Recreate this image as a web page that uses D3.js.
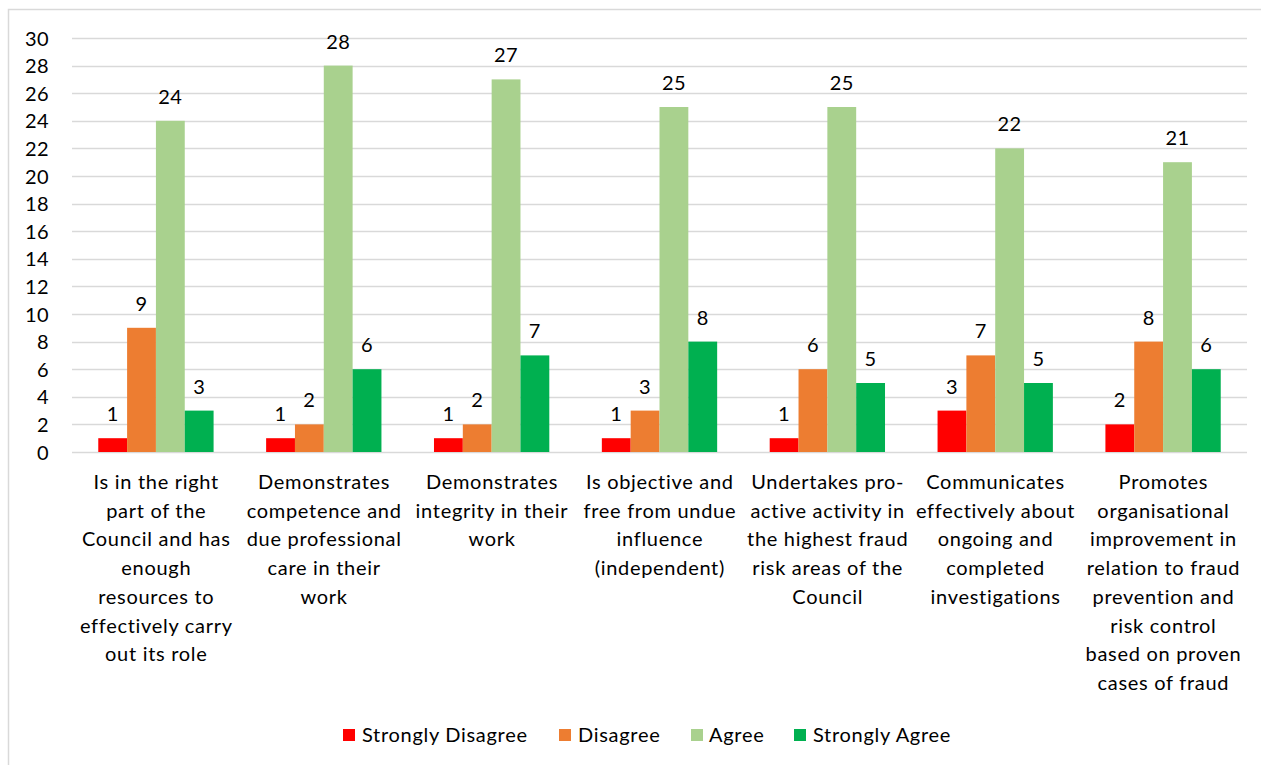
<!DOCTYPE html>
<html>
<head>
<meta charset="utf-8">
<script src="https://cdn.jsdelivr.net/npm/d3@7"></script>
<style>
  html, body { margin: 0; padding: 0; background: #fff; }
  svg { display: block; }
  text { font-family: "Lato", "Open Sans", sans-serif; fill: #000; }
</style>
</head>
<body>
<svg id="chart" width="1261" height="765"></svg>
<script>
// Survey responses per statement
const categories = [
  "Is in the right|part of the|Council and has|enough|resources to|effectively carry|out its role",
  "Demonstrates|competence and|due professional|care in their|work",
  "Demonstrates|integrity in their|work",
  "Is objective and|free from undue|influence|(independent)",
  "Undertakes pro-|active activity in|the highest fraud|risk areas of the|Council",
  "Communicates|effectively about|ongoing and|completed|investigations",
  "Promotes|organisational|improvement in|relation to fraud|prevention and|risk control|based on proven|cases of fraud"
];
const seriesNames = ["Strongly Disagree", "Disagree", "Agree", "Strongly Agree"];
const stronglyDisagree = [1, 1, 1, 1, 1, 3, 2];
const disagree = [9, 2, 2, 3, 6, 7, 8];
const agree = [24, 28, 27, 25, 25, 22, 21];
const stronglyAgree = [3, 6, 7, 8, 5, 5, 6];
const yTicks = [0, 2, 4, 6, 8, 10, 12, 14, 16, 18, 20, 22, 24, 26, 28, 30];
const colors = ["#FF0000", "#ED7D31", "#A9D18E", "#00B050"];

const seriesValues = [stronglyDisagree, disagree, agree, stronglyAgree];
const LS = 0.7; // letter spacing for wrapped / legend text

const svg = d3.select("#chart");

// chart frame (left and top edges visible)
svg.append("rect")
  .attr("x", 8.5).attr("y", 9.5)
  .attr("width", 1300).attr("height", 800)
  .attr("fill", "none").attr("stroke", "#D9D9D9").attr("stroke-width", 1.5);

const plot = { left: 72, right: 1247, top: 38, bottom: 452 };

const x0 = d3.scaleBand()
  .domain(d3.range(categories.length))
  .range([plot.left, plot.right])
  .paddingInner(0.313).paddingOuter(0.1565);

const x1 = d3.scaleBand()
  .domain(d3.range(seriesNames.length))
  .range([0, x0.bandwidth()]);

const y = d3.scaleLinear().domain([0, 30]).range([plot.bottom, plot.top]);

// gridlines
svg.append("g")
  .selectAll("line")
  .data(yTicks)
  .join("line")
  .attr("x1", plot.left).attr("x2", plot.right)
  .attr("y1", d => Math.round(y(d)) + 0.5).attr("y2", d => Math.round(y(d)) + 0.5)
  .attr("stroke", "#D9D9D9").attr("stroke-width", 1.5);

// y axis labels
const yAxis = d3.axisLeft(y).tickValues(yTicks).tickSize(0).tickPadding(0);
const yg = svg.append("g").attr("transform", `translate(${49},0)`).call(yAxis);
yg.select(".domain").remove();
yg.selectAll("text")
  .attr("font-size", 20)
  .attr("font-family", "Lato, 'Open Sans', sans-serif")
  .attr("fill", "#000")
  .attr("letter-spacing", 0.4)
  .attr("dy", "0.35em");

// bars
const groups = svg.append("g")
  .selectAll("g")
  .data(categories.map((c, i) => i))
  .join("g")
  .attr("transform", i => `translate(${x0(i)},0)`);

groups.selectAll("rect")
  .data(i => seriesValues.map((vals, s) => ({ s, v: vals[i] })))
  .join("rect")
  .attr("x", d => x1(d.s))
  .attr("width", x1.bandwidth())
  .attr("y", d => y(d.v))
  .attr("height", d => y(0) - y(d.v))
  .attr("fill", d => colors[d.s]);

// value labels
groups.selectAll("text.value")
  .data(i => seriesValues.map((vals, s) => ({ s, v: vals[i] })))
  .join("text")
  .attr("class", "value")
  .attr("x", d => x1(d.s) + x1.bandwidth() / 2)
  .attr("y", d => y(d.v) - 17)
  .attr("text-anchor", "middle")
  .attr("font-size", 20)
  .attr("letter-spacing", 0.4)
  .text(d => d.v);

// category labels
const xg = svg.append("g");
categories.forEach((c, i) => {
  const cx = x0(i) + x0.bandwidth() / 2;
  const t = xg.append("text")
    .attr("x", cx)
    .attr("y", 489)
    .attr("text-anchor", "middle")
    .attr("letter-spacing", LS)
    .attr("font-size", 20);
  c.split("|").forEach((line, k) => {
    t.append("tspan")
      .attr("x", cx + LS / 2)
      .attr("y", 489 + k * 28.7)
      .text(line);
  });
});

// legend
const legendItems = [
  { sw: 343, tx: 362 },
  { sw: 559, tx: 578 },
  { sw: 691, tx: 709 },
  { sw: 794, tx: 813 }
];
const legend = svg.append("g");
seriesNames.forEach((name, s) => {
  legend.append("rect")
    .attr("x", legendItems[s].sw).attr("y", 729)
    .attr("width", 12).attr("height", 12)
    .attr("fill", colors[s]);
  legend.append("text")
    .attr("x", legendItems[s].tx).attr("y", 742)
    .attr("font-size", 20)
    .attr("letter-spacing", LS)
    .text(name);
});
</script>
</body>
</html>
